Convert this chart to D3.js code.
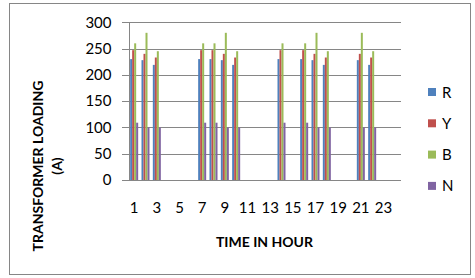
<!DOCTYPE html>
<html>
<head>
<meta charset="utf-8">
<script src="https://cdn.jsdelivr.net/npm/d3@7"></script>
<style>
  body { margin: 0; background: #fff; }
  svg { display: block; font-family: Lato, "Open Sans", sans-serif; }
</style>
</head>
<body>
<div id="chart"></div>
<script>
// hours on the x axis
const hours = [1, 2, 3, 4, 5, 6, 7, 8, 9, 10, 11, 12, 13, 14, 15, 16, 17, 18, 19, 20, 21, 22, 23, 24];
const hourLabels = [1, 3, 5, 7, 9, 11, 13, 15, 17, 19, 21, 23];
const seriesNames = ['R', 'Y', 'B', 'N'];
const colours = ['#4F81BD', '#C0504D', '#9BBB59', '#8064A2'];
const yTicks = [0, 50, 100, 150, 200, 250, 300];

// loading per phase (0 = no reading)
const R = [230, 228, 219, 0, 0, 0, 230, 230, 228, 219, 0, 0, 0, 230, 0, 230, 228, 219, 0, 0, 228, 219, 0, 0];
const Y = [247, 240, 233, 0, 0, 0, 247, 247, 240, 233, 0, 0, 0, 247, 0, 247, 240, 233, 0, 0, 240, 233, 0, 0];
const B = [260, 280, 245, 0, 0, 0, 260, 260, 280, 245, 0, 0, 0, 260, 0, 260, 280, 245, 0, 0, 280, 245, 0, 0];
const N = [109, 100, 100, 0, 0, 0, 109, 109, 100, 100, 0, 0, 0, 109, 0, 109, 100, 100, 0, 0, 100, 100, 0, 0];

const seriesValues = [R, Y, B, N];
const data = hours.map((h, i) => {
  let row = { hour: h };
  seriesNames.forEach((s, j) => row[s] = seriesValues[j][i]);
  return row;
});

const width = 475, height = 278;
const plot = { left: 128.5, right: 400.5, top: 22.3, bottom: 180 };
const grey = '#868686';

const svg = d3.select('#chart').append('svg')
  .attr('width', width)
  .attr('height', height);

// outer frame
svg.append('rect')
  .attr('x', 9.5).attr('y', 3.5)
  .attr('width', 461).attr('height', 271)
  .attr('fill', 'none')
  .attr('stroke', grey)
  .attr('stroke-width', 1);

const x0 = d3.scaleBand()
  .domain(hours)
  .range([plot.left, plot.right])
  .padding(0);

const x1 = d3.scaleBand()
  .domain(seriesNames)
  .range([0, x0.bandwidth()])
  .paddingInner(0)
  .paddingOuter(0.83);

const y = d3.scaleLinear()
  .domain([0, 300])
  .range([plot.bottom, plot.top]);

const colour = d3.scaleOrdinal().domain(seriesNames).range(colours);

// gridlines, drawn from the right so they stick out 6px left of the axis
svg.append('g')
  .attr('class', 'grid')
  .attr('transform', `translate(${plot.right}, 0)`)
  .call(d3.axisRight(y).tickValues(yTicks).tickSize(-(plot.right - plot.left) - 6.5).tickFormat(''))
  .call(g => {
    g.select('.domain').remove();
    g.selectAll('line')
      .attr('stroke', grey)
      .attr('shape-rendering', 'crispEdges');
  });

// y axis line + labels
svg.append('g')
  .attr('class', 'y-axis')
  .attr('transform', `translate(${plot.left}, 0)`)
  .call(d3.axisLeft(y).tickValues(yTicks).tickSize(0).tickPadding(17).tickFormat(d3.format('d')))
  .call(g => {
    g.select('.domain')
      .attr('stroke', grey)
      .attr('shape-rendering', 'crispEdges');
    g.selectAll('text')
      .attr('font-size', 15)
      .attr('fill', '#000')
      .attr('font-family', 'Lato, sans-serif');
  });

// bars
svg.append('g')
  .selectAll('g')
  .data(data)
  .join('g')
    .attr('transform', d => `translate(${x0(d.hour)}, 0)`)
  .selectAll('rect')
  .data(d => seriesNames.map(k => ({ key: k, value: d[k] })).filter(d => d.value > 0))
  .join('rect')
    .attr('x', d => x1(d.key))
    .attr('y', d => y(d.value))
    .attr('width', x1.bandwidth())
    .attr('height', d => y(0) - y(d.value))
    .attr('fill', d => colour(d.key));

// x axis labels (odd hours only)
svg.append('g')
  .attr('class', 'x-axis')
  .attr('transform', `translate(0, ${plot.bottom})`)
  .call(d3.axisBottom(x0).tickValues(hourLabels).tickSize(0).tickPadding(22))
  .call(g => {
    g.select('.domain').remove();
    g.selectAll('text')
      .attr('font-size', 15)
      .attr('fill', '#000')
      .attr('font-family', 'Lato, sans-serif');
  });

// axis titles
svg.append('text')
  .attr('x', (plot.left + plot.right) / 2)
  .attr('y', 247)
  .attr('text-anchor', 'middle')
  .attr('font-size', 14)
  .attr('font-weight', 'bold')
  .text('TIME IN HOUR');

const yTitle = svg.append('text')
  .attr('transform', 'translate(43, 166) rotate(-90)')
  .attr('text-anchor', 'middle')
  .attr('font-size', 14)
  .attr('font-weight', 'bold');
yTitle.append('tspan').attr('x', 0).attr('y', 0).text('TRANSFORMER LOADING');
yTitle.append('tspan').attr('x', 0).attr('y', 19).text('(A)');

// legend
const legend = svg.append('g')
  .attr('transform', 'translate(428, 92)');

const item = legend.selectAll('g')
  .data(seriesNames)
  .join('g')
    .attr('transform', (d, i) => `translate(0, ${i * 31.3})`);

item.append('rect')
  .attr('x', 0).attr('y', -4)
  .attr('width', 8).attr('height', 8)
  .attr('fill', d => colour(d));

item.append('text')
  .attr('x', 14)
  .attr('y', 5.5)
  .attr('font-size', 15)
  .text(d => d);
</script>
</body>
</html>
